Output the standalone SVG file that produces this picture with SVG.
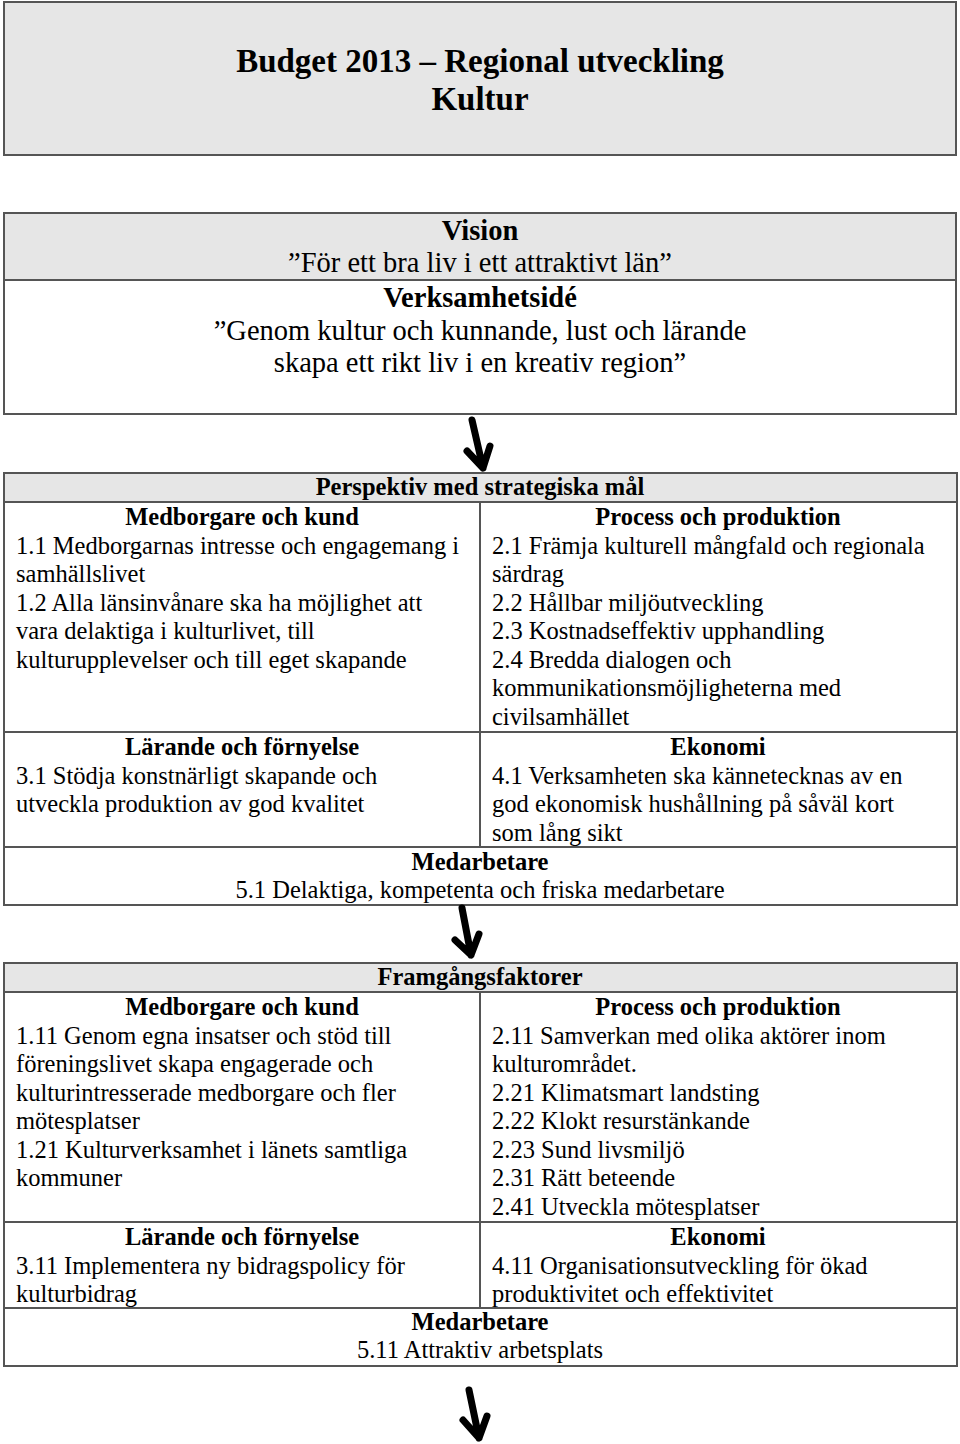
<svg xmlns="http://www.w3.org/2000/svg" width="960" height="1444" viewBox="0 0 960 1444">
<style>
.box{fill:#ffffff;stroke:#555555;stroke-width:2}
.gray{fill:#e6e6e6}
.ln{stroke:#555555;stroke-width:2;fill:none}
text{font-family:"Liberation Serif","Times New Roman",serif;fill:#000}
.t{font-size:33px;font-weight:bold;text-anchor:middle}
.vh{font-size:28.5px;font-weight:bold;text-anchor:middle}
.vt{font-size:28.5px;text-anchor:middle}
.h{font-size:24.5px;font-weight:bold;text-anchor:middle}
.b{font-size:24.5px}
.bc{font-size:24.5px;text-anchor:middle}
.arr{stroke:#000;stroke-width:7;fill:none;stroke-linecap:round;stroke-linejoin:round}
</style>
<rect width="960" height="1444" fill="#ffffff"/>
<g id="title">
<rect x="4" y="2" width="952" height="153" fill="#e6e6e6" stroke="#555555" stroke-width="2"/>
<text class="t" x="480" y="72">Budget 2013 – Regional utveckling</text>
<text class="t" x="480" y="110">Kultur</text>
</g>
<g id="vision">
<rect class="box" x="4" y="213" width="952" height="201"/>
<rect class="gray" x="5" y="214" width="950" height="66"/>
<line class="ln" x1="4" y1="280" x2="956" y2="280"/>
<text class="vh" x="480" y="240">Vision</text>
<text class="vt" x="480" y="272">”För ett bra liv i ett attraktivt län”</text>
<text class="vh" x="480" y="307">Verksamhetsidé</text>
<text class="vt" x="480" y="340">”Genom kultur och kunnande, lust och lärande</text>
<text class="vt" x="480" y="372">skapa ett rikt liv i en kreativ region”</text>
</g>
<g id="perspektiv">
<rect class="box" x="4" y="473" width="953" height="432"/>
<rect class="gray" x="5" y="474" width="951" height="28"/>
<line class="ln" x1="4" y1="502" x2="957" y2="502"/>
<line class="ln" x1="480" y1="502" x2="480" y2="847"/>
<line class="ln" x1="4" y1="732" x2="957" y2="732"/>
<line class="ln" x1="4" y1="847" x2="957" y2="847"/>
<text class="h" x="480" y="495">Perspektiv med strategiska mål</text>
<text class="h" x="242" y="525">Medborgare och kund</text>
<text class="b" x="16" y="553.5">1.1 Medborgarnas intresse och engagemang i</text>
<text class="b" x="16" y="582">samhällslivet</text>
<text class="b" x="16" y="610.5">1.2 Alla länsinvånare ska ha möjlighet att</text>
<text class="b" x="16" y="639">vara delaktiga i kulturlivet, till</text>
<text class="b" x="16" y="667.5">kulturupplevelser och till eget skapande</text>
<text class="h" x="242" y="755">Lärande och förnyelse</text>
<text class="b" x="16" y="783.5">3.1 Stödja konstnärligt skapande och</text>
<text class="b" x="16" y="812">utveckla produktion av god kvalitet</text>
<text class="h" x="718" y="525">Process och produktion</text>
<text class="b" x="492" y="553.5">2.1 Främja kulturell mångfald och regionala</text>
<text class="b" x="492" y="582">särdrag</text>
<text class="b" x="492" y="610.5">2.2 Hållbar miljöutveckling</text>
<text class="b" x="492" y="639">2.3 Kostnadseffektiv upphandling</text>
<text class="b" x="492" y="667.5">2.4 Bredda dialogen och</text>
<text class="b" x="492" y="696">kommunikationsmöjligheterna med</text>
<text class="b" x="492" y="724.5">civilsamhället</text>
<text class="h" x="718" y="755">Ekonomi</text>
<text class="b" x="492" y="783.5">4.1 Verksamheten ska kännetecknas av en</text>
<text class="b" x="492" y="812">god ekonomisk hushållning på såväl kort</text>
<text class="b" x="492" y="840.5">som lång sikt</text>
<text class="h" x="480" y="870">Medarbetare</text>
<text class="bc" x="480" y="898">5.1 Delaktiga, kompetenta och friska medarbetare</text>
</g>
<g id="framgangsfaktorer">
<rect class="box" x="4" y="963" width="953" height="403"/>
<rect class="gray" x="5" y="964" width="951" height="28"/>
<line class="ln" x1="4" y1="992" x2="957" y2="992"/>
<line class="ln" x1="480" y1="992" x2="480" y2="1308"/>
<line class="ln" x1="4" y1="1222" x2="957" y2="1222"/>
<line class="ln" x1="4" y1="1308" x2="957" y2="1308"/>
<text class="h" x="480" y="985">Framgångsfaktorer</text>
<text class="h" x="242" y="1015">Medborgare och kund</text>
<text class="b" x="16" y="1043.5">1.11 Genom egna insatser och stöd till</text>
<text class="b" x="16" y="1072">föreningslivet skapa engagerade och</text>
<text class="b" x="16" y="1100.5">kulturintresserade medborgare och fler</text>
<text class="b" x="16" y="1129">mötesplatser</text>
<text class="b" x="16" y="1157.5">1.21 Kulturverksamhet i länets samtliga</text>
<text class="b" x="16" y="1186">kommuner</text>
<text class="h" x="242" y="1245">Lärande och förnyelse</text>
<text class="b" x="16" y="1273.5">3.11 Implementera ny bidragspolicy för</text>
<text class="b" x="16" y="1302">kulturbidrag</text>
<text class="h" x="718" y="1015">Process och produktion</text>
<text class="b" x="492" y="1043.5">2.11 Samverkan med olika aktörer inom</text>
<text class="b" x="492" y="1072">kulturområdet.</text>
<text class="b" x="492" y="1100.5">2.21 Klimatsmart landsting</text>
<text class="b" x="492" y="1129">2.22 Klokt resurstänkande</text>
<text class="b" x="492" y="1157.5">2.23 Sund livsmiljö</text>
<text class="b" x="492" y="1186">2.31 Rätt beteende</text>
<text class="b" x="492" y="1214.5">2.41 Utveckla mötesplatser</text>
<text class="h" x="718" y="1245">Ekonomi</text>
<text class="b" x="492" y="1273.5">4.11 Organisationsutveckling för ökad</text>
<text class="b" x="492" y="1302">produktivitet och effektivitet</text>
<text class="h" x="480" y="1330">Medarbetare</text>
<text class="bc" x="480" y="1358">5.11 Attraktiv arbetsplats</text>
</g>
<g id="connectors">
<path class="arr" d="M472 420 L483 468 M467 451 L483 468 L490 446"/>
<path class="arr" d="M462 908 L471 955 M455 940 L471 955 L479 934"/>
<path class="arr" d="M469 1390 L479 1438 M463 1420 L479 1438 L487 1416"/>
</g>
</svg>
